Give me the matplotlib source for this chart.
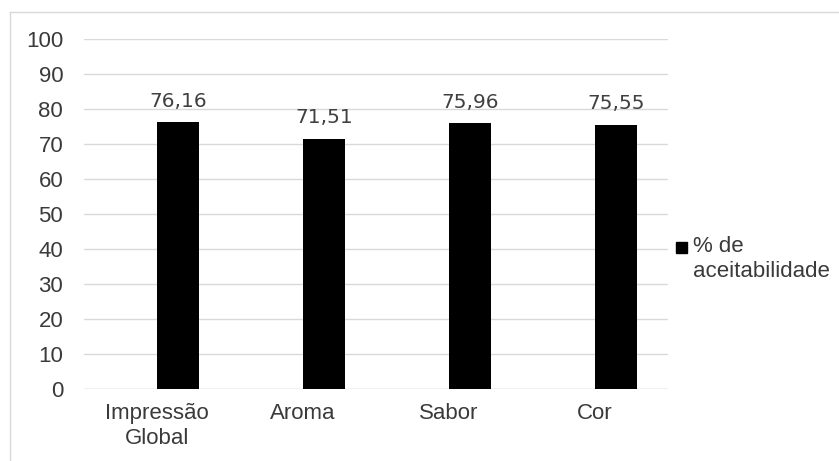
import matplotlib
matplotlib.use("Agg")
import matplotlib.pyplot as plt
from matplotlib.lines import Line2D
from matplotlib.patches import Rectangle

categorias = ["Impressão\nGlobal", "Aroma", "Sabor", "Cor"]
aceitabilidade = [76.16, 71.51, 75.96, 75.55]
rotulos = ["76,16", "71,51", "75,96", "75,55"]
yticks = [0, 10, 20, 30, 40, 50, 60, 70, 80, 90, 100]
serie = "% de\naceitabilidade"

plt.rcParams['font.family'] = ['Liberation Sans', 'DejaVu Sans']

fig = plt.figure(figsize=(8.39, 4.61), dpi=100)
ax = fig.add_axes([84/839, 1 - 389/461, (668 - 84)/839, (389 - 39)/461])

x = list(range(len(categorias)))
# bars sit right of the category centre (excel layout with an empty second series)
xb = [i + 0.145 for i in x]
bars = ax.bar(xb, aceitabilidade, width=0.288, color="black", zorder=3)

for b, txt in zip(bars, rotulos):
    ax.annotate(txt, (b.get_x() + b.get_width()/2, b.get_height()),
                xytext=(0, 11), textcoords="offset points",
                ha="center", va="baseline", fontsize=14.5,
                family="DejaVu Sans", color="#404040")

ax.set_xlim(-0.5, 3.5)
ax.set_ylim(0, 100)
ax.set_yticks(yticks)
ax.set_xticks(x)
ax.set_xticklabels(categorias, fontsize=16, color="#3a3a3a", linespacing=1.25)
ax.tick_params(axis="y", labelsize=16, labelcolor="#3a3a3a", length=0, pad=15)
ax.tick_params(axis="x", length=0, pad=10)

ax.yaxis.grid(True, color="#d9d9d9", linewidth=1, zorder=0)
for s in ax.spines.values():
    s.set_visible(False)
ax.axhline(0, color="#d9d9d9", linewidth=1, zorder=1)

# legend drawn by hand so the marker lines up with the first line
fig.add_artist(Rectangle((676/839, 1 - 253/461), 11/839, 11/461,
                         transform=fig.transFigure, color="black"))
fig.text(693/839, 1 - 236/461, serie, fontsize=16, color="#3a3a3a",
         va="top", ha="left", linespacing=1.22)

# chart area border (top and left visible)
fig.add_artist(Line2D([10/839, 10/839], [0, 1 - 12.5/461], transform=fig.transFigure,
                      color="#d9d9d9", linewidth=1))
fig.add_artist(Line2D([10/839, 1], [1 - 12.5/461, 1 - 12.5/461], transform=fig.transFigure,
                      color="#d9d9d9", linewidth=1))

fig.savefig("out.png", dpi=100)
